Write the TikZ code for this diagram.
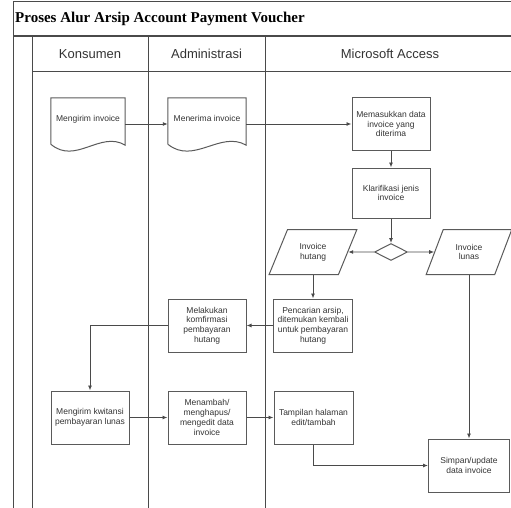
\documentclass[tikz,border=0pt]{standalone}
\usepackage{fontspec}
\setmainfont{Liberation Serif}
\setsansfont{Liberation Sans}
\usepackage{tikz}
\usetikzlibrary{arrows.meta, shapes.geometric, calc}
\definecolor{framegray}{HTML}{4A4A4A}
\definecolor{boxgray}{HTML}{5A5A5A}
\definecolor{textgray}{HTML}{333333}

\begin{document}
\begin{tikzpicture}[x=1pt, y=1pt,
        every node/.style={font=\sffamily\fontsize{8.5}{9.8}\selectfont, text=textgray},
        frame/.style={draw=framegray, line width=1pt},
        lanetitle/.style={font=\sffamily\fontsize{13}{15}\selectfont},
        process/.style={
          rectangle, draw=boxgray, line width=1pt, align=center,
          inner sep=2pt, minimum width=78, minimum height=53},
        docbox/.style={
          rectangle, align=center, inner sep=2pt,
          minimum height=52, text depth=12pt},
        io/.style={
          trapezium, draw=boxgray, line width=1pt, align=center,
          trapezium left angle=62, trapezium right angle=118,
          trapezium stretches=true, inner sep=1pt,
          minimum width=88, minimum height=45},
        decision/.style={
          diamond, draw=boxgray, line width=1pt, aspect=2,
          inner sep=0pt, minimum width=33, minimum height=17},
        flow/.style={draw=framegray, line width=0.9pt, -{Latex[length=5pt,width=4pt]}}
      ]
        \useasboundingbox (0,0) rectangle (511,-508);
        \draw[frame] (13,-508) -- (13,-2) -- (511,-2);
        \draw[frame, line width=1.6pt] (13,-36) -- (511,-36);
        \draw[frame] (32,-72) -- (511,-72);
        \foreach \x in {32,148,265}
          \draw[frame] (\x,-36) -- (\x,-508);

        \node[font=\rmfamily\bfseries\fontsize{15}{18}\selectfont, text=black,
          anchor=west, inner sep=1pt] (judul) at (14,-19)
          {Proses Alur Arsip Account Payment Voucher};
        \node[lanetitle] (konsumen) at (90,-54) {Konsumen};
        \node[lanetitle] (admin) at (206.5,-54) {Administrasi};
        \node[lanetitle] (access) at (390,-54) {Microsoft Access};

        \node[docbox, minimum width=74] (kirim) at (88,-124) {Mengirim invoice};
        \node[docbox, minimum width=78] (terima) at (207,-124) {Menerima invoice};
        \foreach \d in {kirim, terima}
          \draw[draw=boxgray, line width=1pt]
            ($(\d.south west)+(0,6)$) -- (\d.north west) -- (\d.north east)
            -- ($(\d.south east)+(0,5)$)
            .. controls ($(\d.south east)!0.33!(\d.south west)+(0,20)$)
            and ($(\d.south east)!0.67!(\d.south west)+(0,-15)$)
            .. ($(\d.south west)+(0,6)$);

        \node[process, minimum height=52] (masuk) at (391,-124)
          {Memasukkan data\\invoice yang\\diterima};
        \node[process, minimum height=50] (klar) at (391,-193)
          {Klarifikasi jenis\\invoice};
        \node[decision] (pilih) at (391,-252) {};
        \node[io] (hutang) at (313,-252) {Invoice\\hutang};
        \node[io, minimum width=86] (lunas) at (469,-252) {Invoice\\lunas};
        \node[process, minimum width=79] (cari) at (313,-325.5)
          {Pencarian arsip,\\ditemukan kembali\\untuk pembayaran\\hutang};
        \node[process] (lakukan) at (207,-325.5)
          {Melakukan\\komfirmasi\\pembayaran\\hutang};
        \node[process] (kwitansi) at (90,-417.5)
          {Mengirim kwitansi\\pembayaran lunas};
        \node[process] (tambah) at (207,-417.5)
          {Menambah/\\menghapus/\\mengedit data\\invoice};
        \node[process, minimum width=79] (tampil) at (313.5,-417.5)
          {Tampilan halaman\\edit/tambah};
        \node[process, minimum width=81] (simpan) at (469,-465.5)
          {Simpan/update\\data invoice};

        \draw[flow] (kirim.east) -- (terima.west);
        \draw[flow] (terima.east) -- (masuk.west);
        \draw[flow] (masuk) -- (klar);
        \draw[flow] (klar) -- (pilih);
        \draw[flow] (pilih.west) -- (hutang.east);
        \draw[flow] (pilih.east) -- (lunas.west);
        \draw[flow] (hutang.south) -- (hutang.south |- cari.north);
        \draw[flow] (cari.west) -- (lakukan.east);
        \draw[flow] (lakukan.west) -| (kwitansi.north);
        \draw[flow] (kwitansi) -- (tambah);
        \draw[flow] (tambah) -- (tampil);
        \draw[flow] (tampil.south) |- (simpan.west);
        \draw[flow] (lunas.south) -- (lunas.south |- simpan.north);
      \end{tikzpicture}
\end{document}
